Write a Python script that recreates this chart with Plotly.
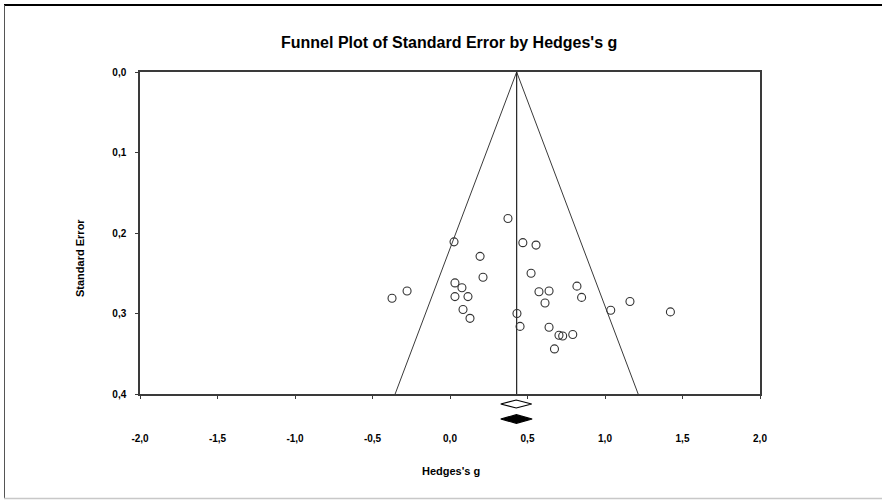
import plotly.graph_objects as go

# ---- data ----
hedges_g = [-0.374, -0.277, 0.026, 0.032, 0.032, 0.077, 0.116, 0.084, 0.129, 0.194,
            0.213, 0.374, 0.470, 0.432, 0.452, 0.523, 0.555, 0.574, 0.613, 0.639,
            0.639, 0.674, 0.703, 0.727, 0.792, 0.819, 0.849, 1.037, 1.161, 1.422]
std_err = [0.281, 0.272, 0.211, 0.262, 0.279, 0.268, 0.279, 0.295, 0.306, 0.229,
           0.255, 0.182, 0.212, 0.300, 0.316, 0.250, 0.215, 0.273, 0.287, 0.272,
           0.317, 0.344, 0.327, 0.328, 0.326, 0.266, 0.280, 0.296, 0.285, 0.298]
pooled_g = 0.43
se_max = 0.4
observed_ci = [0.327, 0.527]
adjusted_ci = [0.327, 0.530]
x_ticks = [-2.0, -1.5, -1.0, -0.5, 0.0, 0.5, 1.0, 1.5, 2.0]
y_ticks = [0.0, 0.1, 0.2, 0.3, 0.4]
x_ticktext = [f"{v:.1f}".replace(".", ",") for v in x_ticks]
y_ticktext = [f"{v:.1f}".replace(".", ",") for v in y_ticks]

W, H = 882, 500
L, R, T, B = 140, 122, 72, 70
ph = H - T - B
box_bottom = 394
dom0 = (H - B - box_bottom) / ph
strip = H - B - box_bottom  # pixel height of diamond strip

FONT = "Liberation Sans, Arial, sans-serif"
LINE = "#3a3a3a"

fig = go.Figure()

# funnel lines
fig.add_trace(go.Scatter(
    x=[pooled_g - 1.96 * se_max, pooled_g, pooled_g + 1.96 * se_max],
    y=[se_max, 0, se_max], mode="lines",
    line=dict(color=LINE, width=1), hoverinfo="skip", showlegend=False))
fig.add_trace(go.Scatter(
    x=[pooled_g, pooled_g], y=[0, se_max], mode="lines",
    line=dict(color="#222", width=1.2), hoverinfo="skip", showlegend=False))

# studies
fig.add_trace(go.Scatter(
    x=hedges_g, y=std_err, mode="markers",
    marker=dict(symbol="circle-open", size=8, color="#333", line=dict(width=1.1)),
    showlegend=False))

# diamonds (strip below the axis, y2 in pixel-like units)
def diamond(ci, center, cy, hh, filled):
    fig.add_trace(go.Scatter(
        x=[ci[0], center, ci[1], center, ci[0]],
        y=[cy, cy + hh, cy, cy - hh, cy],
        mode="lines", fill="toself",
        fillcolor="black" if filled else "white",
        line=dict(color="black", width=1.2),
        yaxis="y2", hoverinfo="skip", showlegend=False))

diamond(observed_ci, (observed_ci[0] + observed_ci[1]) / 2, strip - 10, 4, False)
diamond(adjusted_ci, (adjusted_ci[0] + adjusted_ci[1]) / 2, strip - 25, 4.3, True)

def px_x(p):
    return (p - L) / (W - L - R)

def px_y(p):
    return (H - B - p) / ph

shapes = [
    dict(type="line", xref="paper", yref="paper", x0=px_x(4), x1=px_x(882), y0=px_y(5), y1=px_y(5),
         line=dict(color="black", width=2)),
    dict(type="line", xref="paper", yref="paper", x0=px_x(4.5), x1=px_x(4.5), y0=px_y(5), y1=px_y(498),
         line=dict(color="#555", width=1)),
    dict(type="line", xref="paper", yref="paper", x0=px_x(4), x1=px_x(882), y0=px_y(498.5), y1=px_y(498.5),
         line=dict(color="#c8c8c8", width=1.5)),
]

fig.update_layout(
    width=W, height=H,
    margin=dict(l=L, r=R, t=T, b=B),
    paper_bgcolor="white", plot_bgcolor="white",
    showlegend=False,
    shapes=shapes,
    xaxis=dict(range=[-2, 2], tickvals=x_ticks, ticktext=x_ticktext,
               showgrid=False, zeroline=False, showline=True, mirror=True,
               linecolor=LINE, linewidth=1.5, ticks="outside", ticklen=3,
               tickcolor=LINE, ticklabelstandoff=31, anchor="y",
               tickfont=dict(family=FONT, size=10, color="black", weight="bold")),
    yaxis=dict(range=[0.4, 0], tickvals=y_ticks, ticktext=y_ticktext, domain=[dom0, 1],
               showgrid=False, zeroline=False, showline=True, mirror=True,
               linecolor=LINE, linewidth=1.5, ticks="outside", ticklen=3,
               tickcolor=LINE, ticklabelstandoff=7,
               tickfont=dict(family=FONT, size=10, color="black", weight="bold")),
    yaxis2=dict(domain=[0, dom0], range=[0, strip], visible=False, anchor="x"),
    annotations=[
        dict(text="Funnel Plot of Standard Error by Hedges's g", xref="paper", yref="paper",
             x=px_x(449), y=px_y(43), xanchor="center", yanchor="middle", showarrow=False,
             font=dict(family=FONT, size=16, color="black", weight="bold")),
        dict(text="Standard Error", xref="paper", yref="paper",
             x=px_x(80), y=px_y(258), xanchor="center", yanchor="middle", showarrow=False,
             textangle=-90,
             font=dict(family=FONT, size=11, color="black", weight="bold")),
        dict(text="Hedges's g", xref="paper", yref="paper",
             x=px_x(451), y=px_y(471), xanchor="center", yanchor="middle", showarrow=False,
             font=dict(family=FONT, size=11, color="black", weight="bold")),
    ],
)

fig.write_html("out.html", config={"displayModeBar": False},
               post_script="document.body.style.margin='0';")
